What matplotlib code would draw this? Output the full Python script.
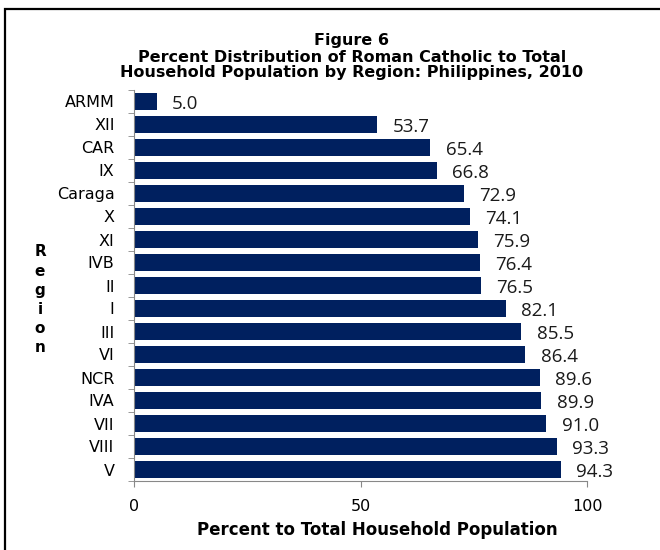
import matplotlib
matplotlib.use("Agg")
import matplotlib.pyplot as plt
from matplotlib.patches import Rectangle

regions = ["ARMM", "XII", "CAR", "IX", "Caraga", "X", "XI", "IVB", "II", "I",
           "III", "VI", "NCR", "IVA", "VII", "VIII", "V"]
percent = [5.0, 53.7, 65.4, 66.8, 72.9, 74.1, 75.9, 76.4, 76.5, 82.1,
           85.5, 86.4, 89.6, 89.9, 91.0, 93.3, 94.3]
x_ticks = [0, 50, 100]
title_lines = ["Figure 6",
               "Percent Distribution of Roman Catholic to Total",
               "Household Population by Region: Philippines, 2010"]

plt.rcParams["font.family"] = ["DejaVu Sans"]

fig = plt.figure(figsize=(6.6, 5.5), dpi=100)
ax = fig.add_axes([134 / 660, 1 - 481 / 550, 453 / 660, 391 / 550])

ypos = list(range(len(regions)))
ax.barh(ypos, percent, height=0.72, color="#00205F")
ax.set_ylim(len(regions) - 0.5, -0.5)
ax.set_xlim(0, 100)

for y, v in zip(ypos, percent):
    ax.annotate(f"{v:.1f}", (v, y), xytext=(11, -2), textcoords="offset points",
                va="center", ha="left", fontsize=13.5, family="Open Sans", color="#1a1a1a")

ax.set_yticks(ypos)
ax.set_yticklabels(regions, fontsize=11.5)
ax.set_yticks([i - 0.5 for i in range(len(regions) + 1)], minor=True)
ax.tick_params(axis="y", which="major", length=0, pad=14)
ax.tick_params(axis="y", which="minor", length=4, color="#888888")

ax.set_xticks(x_ticks)
ax.set_xticklabels([str(t) for t in x_ticks], fontsize=11.5)
ax.tick_params(axis="x", length=4, color="#888888", pad=9)

for side in ("top", "right"):
    ax.spines[side].set_visible(False)
for side in ("left", "bottom"):
    ax.spines[side].set_color("#888888")

ax.set_xlabel("Percent to Total Household Population", fontsize=12,
              fontweight="bold")
ax.xaxis.set_label_coords((377 - 134) / 453, -(530 - 481) / 391)
ax.xaxis.label.set_va("center")

for line, ypix in zip(title_lines, [40, 57, 73]):
    fig.text(352 / 660, 1 - ypix / 550, line, ha="center", va="center",
             fontsize=11.5, fontweight="bold")

fig.text(40 / 660, 1 - 300 / 550, "R\ne\ng\ni\no\nn", ha="center", va="center",
         fontsize=11, fontweight="bold", linespacing=1.35)

fig.patches.append(Rectangle((5 / 660, -0.05), 1.1, 1 - 9 / 550 + 0.05,
                             transform=fig.transFigure, fill=False,
                             edgecolor="black", linewidth=1.6))

fig.savefig("out.png", dpi=100)
